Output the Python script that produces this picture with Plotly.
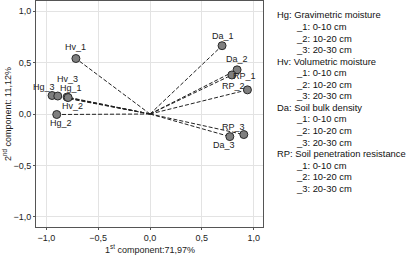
import plotly.graph_objects as go

# ---- data ----
labels = ["Hg_1", "Hg_2", "Hg_3", "Hv_1", "Hv_2", "Hv_3",
          "Da_1", "Da_2", "Da_3", "RP_1", "RP_2", "RP_3"]
comp1 = [-0.80, -0.90, -0.945, -0.715, -0.79, -0.89,
         0.695, 0.84, 0.77, 0.79, 0.94, 0.905]
comp2 = [0.165, -0.005, 0.18, 0.54, 0.16, 0.175,
         0.665, 0.43, -0.22, 0.38, 0.235, -0.20]
tick_vals = [-1.0, -0.5, 0.0, 0.5, 1.0]
x_title = "1<sup>st</sup> component:71,97%"
y_title = "2<sup>nd</sup> component: 11,12%"
legend_lines = [
    ("Hg: Gravimetric moisture", 0), ("_1: 0-10 cm", 1), ("_2: 10-20 cm", 1), ("_3: 20-30 cm", 1),
    ("Hv: Volumetric moisture", 0), ("_1: 0-10 cm", 1), ("_2: 10-20 cm", 1), ("_3: 20-30 cm", 1),
    ("Da: Soil bulk density", 0), ("_1: 0-10 cm", 1), ("_2: 10-20 cm", 1), ("_3: 20-30 cm", 1),
    ("RP: Soil penetration resistance", 0), ("_1: 0-10 cm", 1), ("_2: 10-20 cm", 1), ("_3: 20-30 cm", 1),
]

# ---- label offsets (pixels) ----
label_shift = {
    "Hg_1": (4, 9), "Hg_2": (4, -8), "Hg_3": (-8, 9), "Hv_1": (0, 12),
    "Hv_2": (4, -8), "Hv_3": (10, 17), "Da_1": (1, 10), "Da_2": (0, 11),
    "Da_3": (-6, -8), "RP_1": (13, -1), "RP_2": (-14, 4), "RP_3": (-10, 8),
}

FONT = "Liberation Sans, Arial, sans-serif"
L, R, T, B = 36, 263, 1, 227
W, H = 417, 257
PW, PH = R - L, B - T

fig = go.Figure()

lx, ly = [], []
for x, y in zip(comp1, comp2):
    lx += [0, x, None]
    ly += [0, y, None]
fig.add_trace(go.Scatter(x=lx, y=ly, mode="lines",
                         line=dict(color="#222222", width=1, dash="4px,2px"),
                         hoverinfo="skip", showlegend=False))
fig.add_trace(go.Scatter(x=comp1, y=comp2, mode="markers",
                         marker=dict(size=8, color="#7f7f7f",
                                     line=dict(color="#2a2a2a", width=1)),
                         showlegend=False))

for name, x, y in zip(labels, comp1, comp2):
    dx, dy = label_shift[name]
    fig.add_annotation(x=x, y=y, text=name, showarrow=False,
                       xshift=dx, yshift=dy,
                       font=dict(family=FONT, size=9, color="#222222"))

# legend-like text block
top_px = 15
step_px = 11.55
for i, (txt, indent) in enumerate(legend_lines):
    ypx = top_px + i * step_px
    fig.add_annotation(xref="paper", yref="paper",
                       x=(275 + 19 * indent - L) / PW,
                       y=1 - (ypx - T) / PH,
                       text=txt, showarrow=False, xanchor="left", yanchor="middle",
                       font=dict(family=FONT, size=9.4, color="#111111"))

# axis titles
fig.add_annotation(xref="paper", yref="paper", x=(150 - L) / PW, y=1 - (249 - T) / PH,
                   text=x_title, showarrow=False, xanchor="center", yanchor="middle",
                   font=dict(family=FONT, size=9, color="#222222"))
fig.add_annotation(xref="paper", yref="paper", x=(7 - L) / PW, y=1 - (114 - T) / PH,
                   text=y_title, showarrow=False, textangle=-90,
                   xanchor="center", yanchor="middle",
                   font=dict(family=FONT, size=9, color="#222222"))

axis_common = dict(
    tickvals=tick_vals, tickformat=".1f",
    showgrid=True, gridcolor="#e3e3e3", gridwidth=1,
    zeroline=False, showline=True, linecolor="#555555", linewidth=1,
    mirror=True, ticks="outside", ticklen=2, tickcolor="#555555",
    tickfont=dict(family=FONT, size=9, color="#222222"),
    automargin=False,
)

fig.update_layout(
    width=W, height=H,
    margin=dict(l=L, r=W - R, t=T, b=H - B),
    paper_bgcolor="white", plot_bgcolor="white",
    separators=", ",
    xaxis=dict(range=[-1.1, 1.09], **axis_common),
    yaxis=dict(range=[-1.1, 1.1], **axis_common),
)

fig.write_html("out.html", config={"displayModeBar": False},
               post_script="document.body.style.margin='0px';")
